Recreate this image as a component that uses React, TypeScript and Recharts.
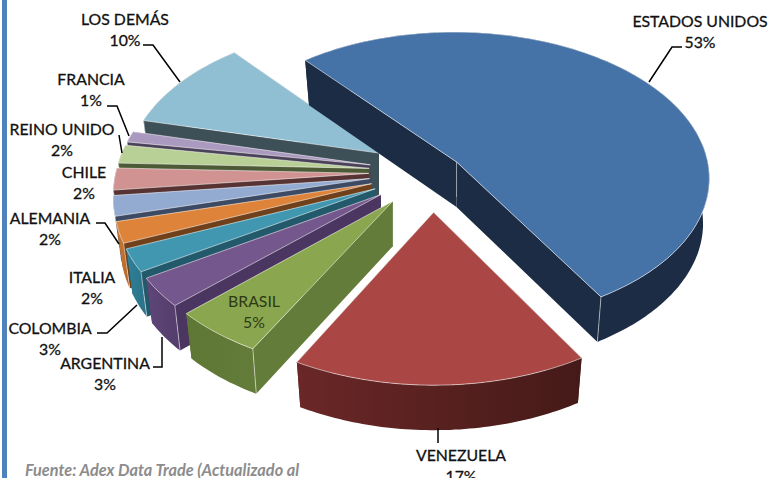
import React from "react";
import { PieChart, Pie } from "recharts";

// order is counter-clockwise from the top so the slices paint back to front
const categories = [
  "LOS DEMÁS",
  "FRANCIA",
  "REINO UNIDO",
  "CHILE",
  "ALEMANIA",
  "ITALIA",
  "COLOMBIA",
  "ARGENTINA",
  "BRASIL",
  "VENEZUELA",
  "ESTADOS UNIDOS",
];
// the labels are these values rounded
const shares = [10.1, 1.2, 2.0, 2.4, 2.2, 2.3, 2.5, 3.2, 5.1, 16.5, 52.5];
const explosion = [0.25, 0.25, 0.25, 0.25, 0.25, 0.25, 0.25, 0.25, 0.25, 0.27, 0.12];

const topColors = [
  "#90bfd3", "#aa9abf", "#b8cf95", "#d19392", "#94abd1", "#de833a",
  "#4197b0", "#74578c", "#8aa64e", "#aa4643", "#4572a7",
];
const cutColors = [
  "#3d4f57", "#4a4259", "#4c5a36", "#573333", "#3d4a63", "#6f4019",
  "#225a6b", "#4a3660", "#647c3a", "#5a2424", "#1b2c44",
];
const wallColors = [
  ["#3d4f57", "#3d4f57"], ["#4a4259", "#4a4259"], ["#4c5a36", "#4c5a36"],
  ["#573333", "#573333"], ["#3d4a63", "#3d4a63"], ["#c87730", "#b56a2a"],
  ["#2f8199", "#2a7188"], ["#5f4679", "#533d6b"], ["#5f7735", "#647c3a"],
  ["#6b2727", "#441a18"], ["#1b2c44", "#1b2c44"],
];

const labelSpots: { x: number; y: number; line?: string; dark?: boolean }[] = [
  { x: 125, y: 18.5, line: "143,45 153,45 180,82" },
  { x: 91, y: 78.5, line: "107,106 117,106 129,136" },
  { x: 62, y: 128.5, line: "119,135 122,153" },
  { x: 84, y: 171.5 },
  { x: 50, y: 217.5, line: "96,223 105,223 119,244" },
  { x: 92, y: 276.5 },
  { x: 50, y: 327.5, line: "97,333 107,333 137,305" },
  { x: 105, y: 362.5, line: "153,367 162,367 162,337" },
  { x: 254, y: 300.5, dark: true },
  { x: 461, y: 454.5, line: "438,428 438,443" },
  { x: 700, y: 20.5, line: "649,82 672,47 682,47" },
];

const chartData = categories.map((name, i) => ({ name, value: shares[i] }));

const FLATTEN = 0.575;
const TILT = 0.105;
const DEPTH = 45;
const BOTTOM_SCALE = 0.975;

const Slice3D = (props: any) => {
  const { cx, cy, outerRadius, startAngle, endAngle, index } = props;
  const i = index ?? categories.indexOf(props.name);
  const rad = Math.PI / 180;
  const a = outerRadius;
  const b = a * FLATTEN;
  const mid = ((startAngle + endAngle) / 2) * rad;
  const offX = explosion[i] * Math.cos(mid);
  const offY = explosion[i] * Math.sin(mid);

  // the exploded disc is projected with a little perspective
  const project = (X: number, Y: number) => {
    const w = 1 + TILT * Y;
    return [cx + (a * X) / w, cy - (b * Y) / w];
  };
  const top = (deg: number) =>
    project(offX + Math.cos(deg * rad), offY + Math.sin(deg * rad));
  const apex = project(offX, offY);
  const low = (p: number[]) => [
    apex[0] + (p[0] - apex[0]) * BOTTOM_SCALE,
    p[1] + DEPTH,
  ];
  const steps = Math.max(2, Math.ceil(Math.abs(endAngle - startAngle)));
  const arc: number[][] = [];
  for (let s = 0; s <= steps; s++) {
    arc.push(top(startAngle + ((endAngle - startAngle) * s) / steps));
  }
  const lowArc = arc.map(low);
  const d = (pts: number[][]) =>
    "M" + pts.map((p) => `${p[0].toFixed(1)},${p[1].toFixed(1)}`).join("L") + "Z";
  const lowApex = [apex[0], apex[1] + DEPTH];
  const first = arc[0];
  const last = arc[arc.length - 1];
  const corner = i === 10 ? first : last;
  const gradId = `wall-${i}`;

  return (
    <g>
      <defs>
        <linearGradient id={gradId} x1="0" y1="0" x2="1" y2="0">
          <stop offset="0%" stopColor={wallColors[i][0]} />
          <stop offset="100%" stopColor={wallColors[i][1]} />
        </linearGradient>
      </defs>
      <path d={d([apex, first, low(first), lowApex])} fill={cutColors[i]} />
      <path d={d([apex, last, low(last), lowApex])} fill={cutColors[i]} />
      <path d={d([...arc, ...[...lowArc].reverse()])} fill={`url(#${gradId})`} />
      <path
        d={d([apex, ...arc])}
        fill={topColors[i]}
        stroke="#ffffff"
        strokeOpacity={0.55}
        strokeWidth={1}
      />
      {i !== 9 && (
        <path
          d={`M${corner[0]},${corner[1]}L${low(corner)[0]},${low(corner)[1]}`}
          stroke="#ffffff"
          strokeOpacity={0.5}
        />
      )}
      {i === 10 && (
        <path
          d={`M${apex[0]},${apex[1]}L${apex[0]},${apex[1] + DEPTH - 10}`}
          stroke="#ffffff"
          strokeOpacity={0.4}
        />
      )}
    </g>
  );
};

const renderLabel = (props: any) => {
  const spot = labelSpots[props.index];
  const textProps = {
    x: spot.x,
    textAnchor: "middle" as const,
    dominantBaseline: "central" as const,
    fontFamily: "Lato, sans-serif",
    fontSize: 15.8,
    fill: spot.dark ? "#2e3a14" : "#111111",
    stroke: spot.dark ? "none" : "#111111",
    strokeWidth: 0.3,
  };
  return (
    <g key={props.index}>
      {spot.line && (
        <polyline points={spot.line} fill="none" stroke="#000000" strokeWidth={1.5} />
      )}
      <text {...textProps} y={spot.y}>
        {categories[props.index]}
      </text>
      <text {...textProps} y={spot.y + 20.5}>
        {Math.round(shares[props.index])}%
      </text>
    </g>
  );
};

export default function App() {
  return (
    <div
      style={{
        position: "absolute",
        left: 0,
        top: 0,
        width: 768,
        height: 478,
        overflow: "hidden",
        background: "#ffffff",
      }}
    >
      <div
        style={{
          position: "absolute",
          left: 2,
          top: 0,
          width: 5,
          height: 478,
          background: "#4f81bd",
        }}
      />
      <PieChart width={768} height={478} margin={{ top: 0, right: 0, bottom: 0, left: 0 }}>
        <Pie
          data={chartData}
          dataKey="value"
          nameKey="name"
          cx={432}
          cy={172}
          outerRadius={253}
          startAngle={130}
          endAngle={490}
          paddingAngle={0}
          stroke="none"
          isAnimationActive={false}
          shape={Slice3D}
          label={renderLabel}
          labelLine={false}
        />
      </PieChart>
      <div
        style={{
          position: "absolute",
          left: 25,
          top: 460,
          fontFamily: "Lato, sans-serif",
          fontStyle: "italic",
          fontWeight: 700,
          fontSize: 16.3,
          color: "#8c8c8c",
          whiteSpace: "nowrap",
        }}
      >
        Fuente: Adex Data Trade (Actualizado al
      </div>
    </div>
  );
}
